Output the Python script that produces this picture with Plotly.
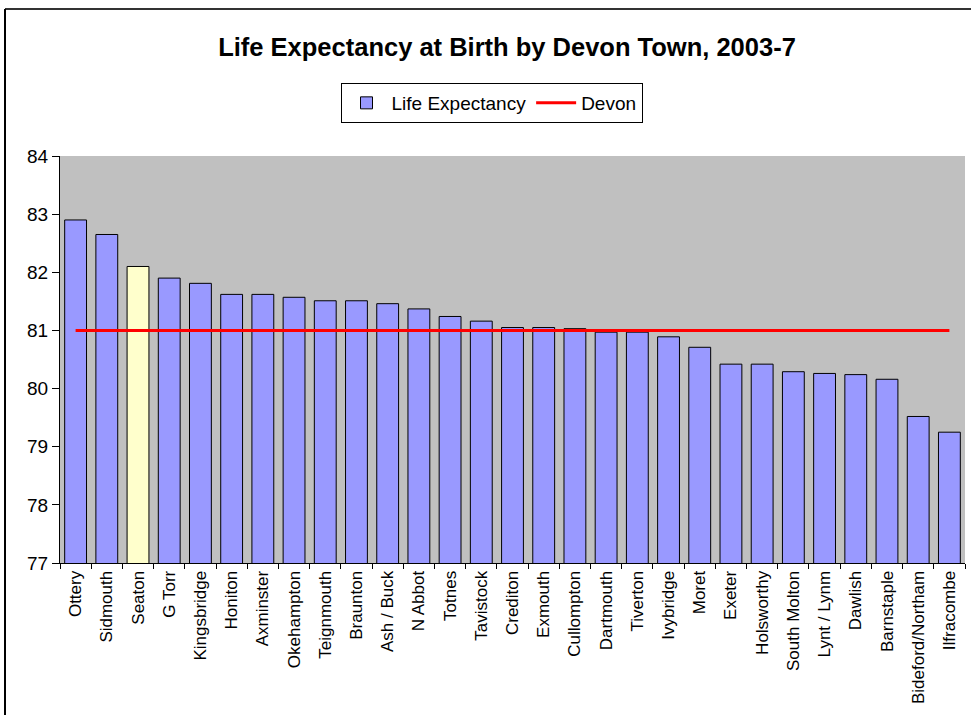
import plotly.graph_objects as go

towns = ["Ottery", "Sidmouth", "Seaton", "G Torr", "Kingsbridge", "Honiton", "Axminster",
         "Okehampton", "Teignmouth", "Braunton", "Ash / Buck", "N Abbot", "Totnes", "Tavistock",
         "Crediton", "Exmouth", "Cullompton", "Dartmouth", "Tiverton", "Ivybridge", "Moret",
         "Exeter", "Holsworthy", "South Molton", "Lynt / Lynm", "Dawlish", "Barnstaple",
         "Bideford/Northam", "Ilfracombe"]
life_expectancy = [82.90, 82.65, 82.10, 81.90, 81.81, 81.62, 81.62, 81.57, 81.51, 81.51,
                   81.46, 81.37, 81.24, 81.16, 81.05, 81.05, 81.03, 80.97, 80.97, 80.89,
                   80.71, 80.42, 80.42, 80.29, 80.26, 80.24, 80.16, 79.52, 79.25]
devon = [81.0] * len(towns)
highlight = "Seaton"

bar_colors = ["#FFFFCC" if t == highlight else "#9999FF" for t in towns]

fig = go.Figure()
fig.add_trace(go.Bar(
    x=towns, y=life_expectancy, name="Life Expectancy",
    marker=dict(color=bar_colors, line=dict(color="black", width=1)),
))
fig.add_trace(go.Scatter(
    x=towns, y=devon, name="Devon", mode="lines",
    line=dict(color="#FF0000", width=3),
))

L, R, T, B = 60, 6, 156, 152
W, H = 971, 715
pw, ph = W - L - R, H - T - B

def px_x(p):
    return (p - L) / pw

def px_y(p):
    return (H - B - p) / ph

fig.update_layout(
    width=W, height=H,
    margin=dict(l=L, r=R, t=T, b=B),
    paper_bgcolor="white",
    plot_bgcolor="#C0C0C0",
    font=dict(family="Liberation Sans, Arial, sans-serif", color="black"),
    title=dict(text="<b>Life Expectancy at Birth by Devon Town, 2003-7</b>",
               x=px_x(507), xref="paper", xanchor="center",
               y=1 - 47 / H, yanchor="middle",
               font=dict(size=25.5, color="black")),
    showlegend=True,
    legend=dict(orientation="h", x=px_x(491.5), xanchor="center", xref="paper",
                y=px_y(103), yanchor="middle",
                bordercolor="black", borderwidth=1, bgcolor="white",
                font=dict(size=19), traceorder="normal",
                itemwidth=40),
    bargap=0.3,
    xaxis=dict(type="category", showgrid=False, showline=True, linecolor="black",
               linewidth=1, ticks="outside", tickson="boundaries", ticklen=5,
               tickcolor="black", tickangle=-90, tickfont=dict(size=17),
               range=[-0.5, len(towns) - 0.5], mirror=False),
    yaxis=dict(range=[77, 84], dtick=1, showgrid=False, showline=True,
               linecolor="black", linewidth=1, ticks="outside", ticklen=7,
               tickcolor="black", tickfont=dict(size=19), zeroline=False),
    shapes=[
        dict(type="line", xref="paper", yref="paper",
             x0=px_x(5), x1=px_x(971), y0=px_y(9), y1=px_y(9),
             line=dict(color="#333333", width=2)),
        dict(type="line", xref="paper", yref="paper",
             x0=px_x(5), x1=px_x(5), y0=px_y(9), y1=px_y(715),
             line=dict(color="black", width=2)),
    ],
)

fig.write_html("out.html", config={"displayModeBar": False},
               post_script="document.body.style.margin='0px';")
